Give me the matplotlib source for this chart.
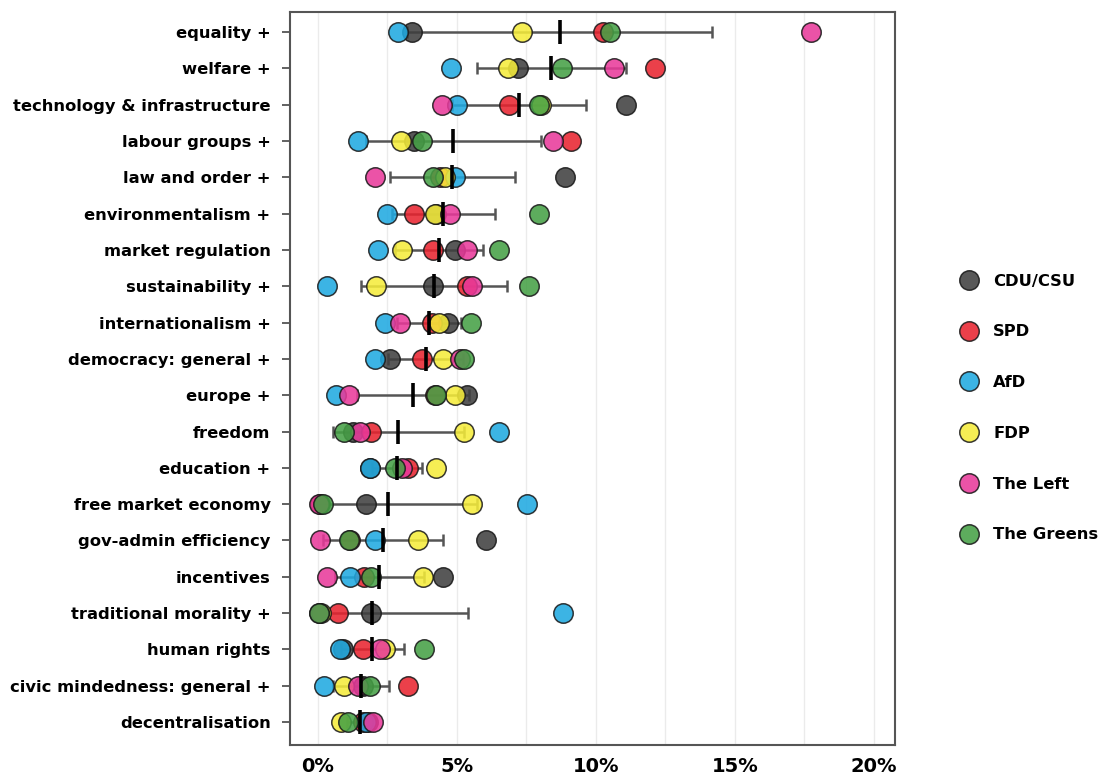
import numpy as np
import matplotlib
matplotlib.use("Agg")
import matplotlib.pyplot as plt
from matplotlib.lines import Line2D

plt.rcParams['font.family'] = ['DejaVu Sans']

# categories, top to bottom
categories = [
    "equality +", "welfare +", "technology & infrastructure", "labour groups +",
    "law and order +", "environmentalism +", "market regulation", "sustainability +",
    "internationalism +", "democracy: general +", "europe +", "freedom", "education +",
    "free market economy", "gov-admin efficiency", "incentives", "traditional morality +",
    "human rights", "civic mindedness: general +", "decentralisation",
]

parties = ["CDU/CSU", "SPD", "AfD", "FDP", "The Left", "The Greens"]
colors = ["#3f3f3f", "#e8232f", "#1fa9e1", "#f5ec3a", "#e8399a", "#45a045"]

# share of manifesto (%) per category, one list per party
cdu = [3.40, 7.21, 11.10, 3.45, 8.90, 4.24, 4.92, 4.16, 4.67, 2.58,
       5.38, 1.28, 1.87, 1.72, 6.06, 4.49, 1.91, 0.89, 1.61, 1.82]
spd = [10.27, 12.13, 6.89, 9.12, 4.39, 3.47, 4.16, 5.36, 4.09, 3.73,
       4.22, 1.91, 3.23, 0.08, 1.17, 1.65, 0.72, 1.61, 3.23, 1.62]
afd = [2.90, 4.78, 5.00, 1.44, 4.95, 2.48, 2.15, 0.32, 2.40, 2.04,
       0.65, 6.53, 1.87, 7.51, 2.04, 1.15, 8.83, 0.79, 0.22, 1.75]
fdp = [7.35, 6.85, 8.04, 2.99, 4.59, 4.22, 3.02, 2.11, 4.35, 4.52,
       4.92, 5.24, 4.26, 5.53, 3.59, 3.78, 0.12, 2.40, 0.93, 0.82]
left = [17.73, 10.65, 4.45, 8.47, 2.05, 4.74, 5.36, 5.56, 2.94, 5.10,
        1.11, 1.51, 3.02, 0.03, 0.07, 0.32, 0.03, 2.23, 1.44, 1.97]
greens = [10.51, 8.80, 7.94, 3.73, 4.16, 7.97, 6.53, 7.61, 5.50, 5.27,
          4.24, 0.93, 2.79, 0.19, 1.11, 1.90, 0.03, 3.83, 1.87, 1.08]

series = [cdu, spd, afd, fdp, left, greens]
values = np.array(series)
y = np.arange(len(categories))

# mean and standard deviation across parties (lower whisker not below 0)
mean = values.mean(axis=0)
sd = values.std(axis=0, ddof=1)
lower = mean - np.clip(mean - sd, 0, None)
upper = sd

fig = plt.figure(figsize=(11.04, 7.80), dpi=100)
ax = fig.add_axes([0.2627, 0.0449, 0.548, 0.9397])

for g in np.arange(0, 21, 2.5):
    ax.axvline(g, color="#ebebeb", lw=1.0, zorder=0)

ax.errorbar(mean, y, xerr=[lower, upper], fmt="none", ecolor="#555555",
            elinewidth=1.8, capsize=4.5, capthick=1.8, zorder=1)

for vals, c, name in zip(series, colors, parties):
    ax.plot(vals, y, "o", ms=14, mfc=c, mec="#1a1a1a", mew=1.1,
            alpha=0.87, ls="none", zorder=2, label=name)

ax.plot(mean, y, "|", ms=17, mew=2.6, color="black", zorder=3)

ax.set_xlim(-1.0, 20.76)
ax.set_ylim(len(categories) - 0.37, -0.55)
ax.set_yticks(y)
ax.set_yticklabels(categories, fontsize=11.8, fontweight="bold")
ax.set_xticks([0, 5, 10, 15, 20])
ax.set_xticklabels(["0%", "5%", "10%", "15%", "20%"], fontsize=14, fontweight="bold")
ax.tick_params(axis="y", length=6, width=1.3, color="#555555", pad=8)
ax.tick_params(axis="x", length=0, pad=9)
for s in ax.spines.values():
    s.set_color("#555555")
    s.set_linewidth(1.5)

handles = [Line2D([], [], marker="o", ls="none", ms=14, mfc=c, mec="#1a1a1a",
                  mew=1.1, alpha=0.87) for c in colors]
fig.legend(handles, parties, loc="center left", bbox_to_anchor=(0.855, 0.477),
           frameon=False, prop={"size": 11.8, "weight": "bold"},
           labelspacing=2.18, handletextpad=0.9, handlelength=1.2)

fig.savefig("out.png", dpi=100)
